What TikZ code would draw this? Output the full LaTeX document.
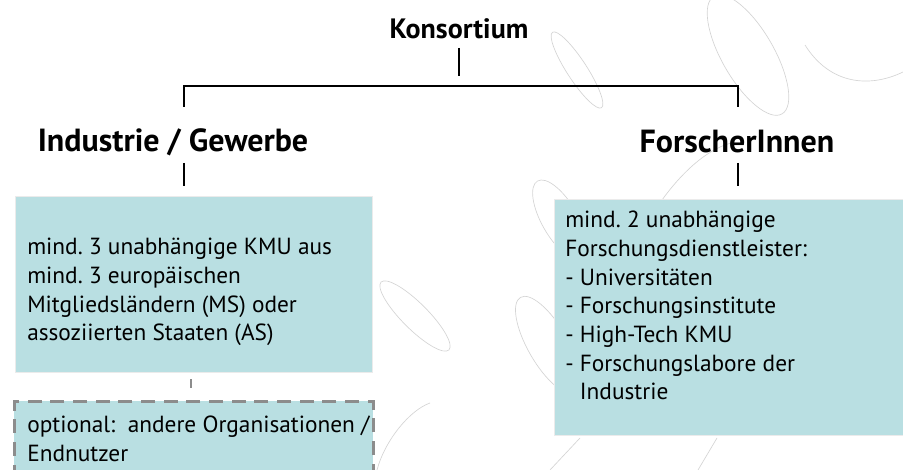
\documentclass[tikz,border=0pt]{standalone}
\usepackage{fontspec}
\setmainfont{PT Sans}
\usetikzlibrary{calc}

\definecolor{boxteal}{RGB}{185,223,226}
\definecolor{dashgray}{RGB}{140,140,140}
\definecolor{swirlgray}{RGB}{212,212,212}
\newdimen\pxu \pxu=0.75pt
\frenchspacing

\begin{document}
\begin{tikzpicture}[x=0.75pt,y=-0.75pt,
    head/.style={font=\fontsize{24}{28}\selectfont\bfseries, inner sep=0pt},
    conn/.style={line width=1.5pt},
    tealbox/.style={fill=boxteal, draw=black!8, line width=0.6pt, anchor=north west, inner sep=0pt},
    txt/.style={font=\fontsize{17.5}{21.5}\selectfont, align=left, inner sep=0pt, anchor=north west},
    swirl/.style={swirlgray, line width=0.5pt}]
    \useasboundingbox (0,0) rectangle (903,470);

    % faint background swirls
    \draw[swirl, rotate around={-57:(577,70)}] (577,70) ellipse (45 and 10);
    \draw[swirl, rotate around={-60:(748,55)}] (748,55) ellipse (68 and 26);
    \draw[swirl] (805,45) .. controls (830,85) and (870,88) .. (903,72);
    \draw[swirl] (662,200) .. controls (680,175) and (705,150) .. (731,143);
    \draw[swirl, rotate around={-45:(415,316)}] (415,316) ellipse (48 and 13);
    \draw[swirl] (377,470) .. controls (385,440) and (410,410) .. (430,403);
    \draw[swirl, rotate around={-60:(560,220)}] (560,220) ellipse (45 and 18);
    \draw[swirl, rotate around={-60:(548,345)}] (548,345) ellipse (55 and 20);
    \draw[swirl] (550,470) -- (580,438);
    \draw[swirl] (698,470) -- (717,438);

    % headings
    \node[head, font=\fontsize{21}{25}\selectfont\bfseries] (kons) at (459,29) {Konsortium};
    \node[head] (indu) at (173,142) {Industrie / Gewerbe};
    \node[head] (forsch) at (737,142) {ForscherInnen};

    % tree lines
    \coordinate (k1) at (459,48);
    \coordinate (k2) at (459,76);
    \coordinate (barL) at (184,86);
    \coordinate (barR) at (738,86);
    \coordinate (l1) at (184,107);
    \coordinate (r1) at (738,107);
    \draw[conn] (k1) -- (k2);
    \draw[conn] (l1) -- (barL) -- (barR) -- (r1);

    \coordinate (lt1) at (184,163);
    \coordinate (lt2) at (184,186);
    \coordinate (rt1) at (738,163);
    \coordinate (rt2) at (738,186);
    \draw[conn] (lt1) -- (lt2);
    \draw[conn] (rt1) -- (rt2);

    % boxes
    \node[tealbox, minimum width=357*\pxu, minimum height=176*\pxu] (kmu) at (15,196) {};
    \node[txt] (kmutext) at ($(kmu.north west)+(12,42)$)
        {mind. 3 unabhängige KMU aus\\mind. 3 europäischen\\Mitgliedsländern (MS) oder\\assoziierten Staaten (AS)};

    \node[tealbox, minimum width=349*\pxu, minimum height=236*\pxu] (forbox) at (554,199) {};
    \node[txt] (fortext) at ($(forbox.north west)+(11,12)$)
        {mind. 2 unabhängige\\Forschungsdienstleister:\\- Universitäten\\- Forschungsinstitute\\- High-Tech KMU\\- Forschungslabore der\\\phantom{- }Industrie};

    % optional partners
    \coordinate (o1) at (191,379);
    \coordinate (o2) at (191,388);
    \draw[dashgray, line width=1.5pt] (o1) -- (o2);
    \node[tealbox, draw=dashgray, line width=2.2pt, dash pattern=on 10.5pt off 6.5pt,
          minimum width=359*\pxu, minimum height=80*\pxu] (optbox) at (13,400) {};
    \node[txt] (opttext) at ($(optbox.north west)+(14,16)$)
        {optional:\ \ andere Organisationen /\\Endnutzer};
\end{tikzpicture}
\end{document}
